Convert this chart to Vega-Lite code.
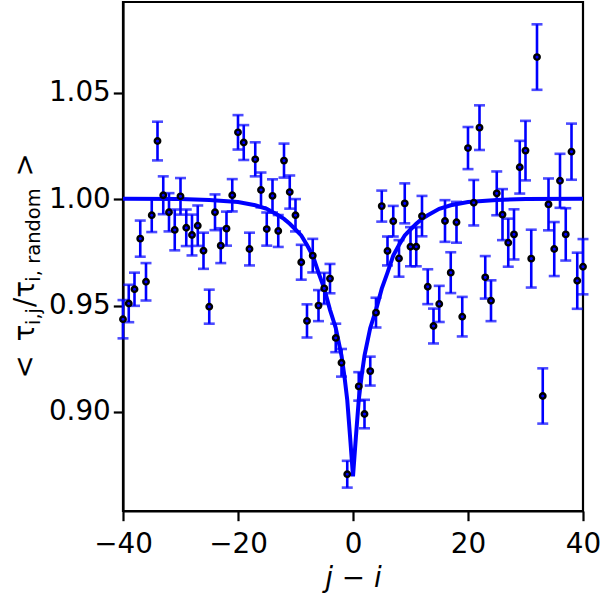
{
  "$schema": "https://vega.github.io/schema/vega-lite/v6.json",
  "width": 460,
  "height": 509,
  "autosize": {"type": "none"},
  "padding": {"left": 123, "top": 2, "right": 17, "bottom": 83},
  "background": "white",
  "config": {
    "view": {"stroke": "black", "strokeWidth": 2.2},
    "axis": {
      "grid": false,
      "labelFont": "DejaVu Sans",
      "labelFontSize": 27.8,
      "labelColor": "black",
      "titleFont": "DejaVu Sans",
      "titleFontSize": 27.8,
      "titleFontWeight": "normal",
      "titleColor": "black",
      "tickColor": "black",
      "tickWidth": 2.2,
      "tickSize": 9.7,
      "domainColor": "black",
      "domainWidth": 2.2
    }
  },
  "datasets": {
    "pts": [
      {"x": -40, "y": 0.9436, "err": 0.009},
      {"x": -39, "y": 0.951, "err": 0.0088},
      {"x": -38, "y": 0.9577, "err": 0.0078},
      {"x": -37, "y": 0.9815, "err": 0.0085},
      {"x": -36, "y": 0.9612, "err": 0.0088},
      {"x": -35, "y": 0.9925, "err": 0.0079},
      {"x": -34, "y": 1.0274, "err": 0.0091},
      {"x": -33, "y": 1.0019, "err": 0.0089},
      {"x": -32, "y": 0.9939, "err": 0.009},
      {"x": -31, "y": 0.9856, "err": 0.0096},
      {"x": -30, "y": 1.0014, "err": 0.0086},
      {"x": -29, "y": 0.9866, "err": 0.0086},
      {"x": -28, "y": 0.9832, "err": 0.0096},
      {"x": -27, "y": 0.9876, "err": 0.0095},
      {"x": -26, "y": 0.9758, "err": 0.0085},
      {"x": -25, "y": 0.9495, "err": 0.008},
      {"x": -24, "y": 0.9939, "err": 0.0084},
      {"x": -23, "y": 0.9782, "err": 0.0082},
      {"x": -22, "y": 0.9862, "err": 0.008},
      {"x": -21, "y": 1.0019, "err": 0.0076},
      {"x": -20, "y": 1.0315, "err": 0.0081},
      {"x": -19, "y": 1.0267, "err": 0.0082},
      {"x": -18, "y": 0.9766, "err": 0.0077},
      {"x": -17, "y": 1.0188, "err": 0.008},
      {"x": -16, "y": 1.0044, "err": 0.0082},
      {"x": -15, "y": 0.986, "err": 0.0078},
      {"x": -14, "y": 1.0016, "err": 0.0078},
      {"x": -13, "y": 0.9851, "err": 0.0075},
      {"x": -12, "y": 1.0182, "err": 0.008},
      {"x": -11, "y": 1.0034, "err": 0.0078},
      {"x": -10, "y": 0.9925, "err": 0.0076},
      {"x": -9, "y": 0.9704, "err": 0.0082},
      {"x": -8, "y": 0.9428, "err": 0.0078},
      {"x": -7, "y": 0.9735, "err": 0.0079},
      {"x": -6, "y": 0.95, "err": 0.0073},
      {"x": -5, "y": 0.9581, "err": 0.0073},
      {"x": -4, "y": 0.9627, "err": 0.0069},
      {"x": -3, "y": 0.9348, "err": 0.0067},
      {"x": -2, "y": 0.9231, "err": 0.0065},
      {"x": -1, "y": 0.8707, "err": 0.0063},
      {"x": 1, "y": 0.912, "err": 0.0067},
      {"x": 2, "y": 0.899, "err": 0.0067},
      {"x": 3, "y": 0.9192, "err": 0.0068},
      {"x": 4, "y": 0.9467, "err": 0.007},
      {"x": 5, "y": 0.9968, "err": 0.0073},
      {"x": 6, "y": 0.9757, "err": 0.0068},
      {"x": 7, "y": 0.9897, "err": 0.0072},
      {"x": 8, "y": 0.9722, "err": 0.0086},
      {"x": 9, "y": 0.9981, "err": 0.0094},
      {"x": 10, "y": 0.9777, "err": 0.0092},
      {"x": 11, "y": 0.9777, "err": 0.0092},
      {"x": 12, "y": 0.9921, "err": 0.0095},
      {"x": 13, "y": 0.9589, "err": 0.0082},
      {"x": 14, "y": 0.9404, "err": 0.0082},
      {"x": 15, "y": 0.9508, "err": 0.0085},
      {"x": 16, "y": 0.9898, "err": 0.0098},
      {"x": 17, "y": 0.9655, "err": 0.0096},
      {"x": 18, "y": 0.9892, "err": 0.0096},
      {"x": 19, "y": 0.9448, "err": 0.0093},
      {"x": 20, "y": 1.0241, "err": 0.0099},
      {"x": 21, "y": 0.9984, "err": 0.0107},
      {"x": 22, "y": 1.0337, "err": 0.0105},
      {"x": 23, "y": 0.9633, "err": 0.01},
      {"x": 24, "y": 0.9523, "err": 0.0096},
      {"x": 25, "y": 1.0028, "err": 0.0103},
      {"x": 26, "y": 0.9928, "err": 0.012},
      {"x": 27, "y": 0.9796, "err": 0.0113},
      {"x": 28, "y": 0.9835, "err": 0.0118},
      {"x": 29, "y": 1.0151, "err": 0.0124},
      {"x": 30, "y": 1.0229, "err": 0.014},
      {"x": 31, "y": 0.9721, "err": 0.0136},
      {"x": 32, "y": 1.0669, "err": 0.0154},
      {"x": 33, "y": 0.9075, "err": 0.013},
      {"x": 34, "y": 0.9976, "err": 0.0122},
      {"x": 35, "y": 0.9766, "err": 0.0127},
      {"x": 36, "y": 1.0087, "err": 0.0127},
      {"x": 37, "y": 0.9835, "err": 0.0123},
      {"x": 38, "y": 1.0224, "err": 0.0132},
      {"x": 39, "y": 0.9617, "err": 0.0132},
      {"x": 40, "y": 0.9683, "err": 0.013}
    ],
    "fit": [
      {"x": -40, "fit": 1.0003},
      {"x": -30, "fit": 1.0001},
      {"x": -25, "fit": 0.9997},
      {"x": -20, "fit": 0.9987},
      {"x": -17, "fit": 0.9972},
      {"x": -15, "fit": 0.9955},
      {"x": -13, "fit": 0.9925},
      {"x": -12, "fit": 0.9908},
      {"x": -11, "fit": 0.9885},
      {"x": -10, "fit": 0.9858},
      {"x": -9, "fit": 0.983},
      {"x": -8, "fit": 0.9785},
      {"x": -7, "fit": 0.9735},
      {"x": -6, "fit": 0.9655},
      {"x": -5, "fit": 0.958},
      {"x": -4, "fit": 0.948},
      {"x": -3, "fit": 0.9395},
      {"x": -2, "fit": 0.9265},
      {"x": -1.5, "fit": 0.917},
      {"x": -1, "fit": 0.9056},
      {"x": -0.5, "fit": 0.888},
      {"x": 0, "fit": 0.8697},
      {"x": 0.5, "fit": 0.888},
      {"x": 1, "fit": 0.9056},
      {"x": 1.5, "fit": 0.917},
      {"x": 2, "fit": 0.9265},
      {"x": 3, "fit": 0.9395},
      {"x": 4, "fit": 0.948},
      {"x": 5, "fit": 0.958},
      {"x": 6, "fit": 0.9655},
      {"x": 7, "fit": 0.9735},
      {"x": 8, "fit": 0.9785},
      {"x": 9, "fit": 0.983},
      {"x": 10, "fit": 0.9858},
      {"x": 11, "fit": 0.9885},
      {"x": 12, "fit": 0.9908},
      {"x": 13, "fit": 0.9925},
      {"x": 15, "fit": 0.9955},
      {"x": 17, "fit": 0.9972},
      {"x": 20, "fit": 0.9987},
      {"x": 25, "fit": 0.9997},
      {"x": 30, "fit": 1.0001},
      {"x": 40, "fit": 1.0003}
    ]
  },
  "resolve": {"scale": {"y": "independent"}},
  "layer": [
    {
      "layer": [
        {
          "data": {"name": "pts"},
          "mark": {"type": "errorbar", "ticks": true, "size": 11, "thickness": 2.6, "color": "#0000ff"},
          "encoding": {
            "x": {"field": "x", "type": "quantitative", "scale": {"domain": [-40, 40], "nice": false, "zero": false},
                  "axis": {"values": [-40, -20, 0, 20, 40], "format": "d", "title": "j − i", "titleFontStyle": "italic", "labelPadding": 10, "titlePadding": 6, "labelFlush": false}},
            "y": {"field": "y", "type": "quantitative", "scale": {"domain": [0.8534, 1.0928], "nice": false, "zero": false},
                  "axis": {"values": [0.9, 0.95, 1.0, 1.05], "format": ".2f", "title": "<\u2002τ\u00a0\u00a0/τ\u2003\u2003\u2003\u2005\u2002>", "titleAngle": 270, "titleAlign": "left", "titleBaseline": "alphabetic", "titleX": -90, "titleY": 376, "labelPadding": 3, "labelFlush": false}},
            "yError": {"field": "err"}
          }
        },
        {
          "data": {"name": "fit"},
          "mark": {"type": "line", "color": "#0000ff", "strokeWidth": 4, "clip": true},
          "encoding": {
            "x": {"field": "x", "type": "quantitative"},
            "y": {"field": "fit", "type": "quantitative"}
          }
        },
        {
          "data": {"name": "pts"},
          "mark": {"type": "point", "filled": false, "fill": "#0000ff", "fillOpacity": 1, "stroke": "black", "strokeWidth": 2.4, "size": 30, "opacity": 1},
          "encoding": {
            "x": {"field": "x", "type": "quantitative"},
            "y": {"field": "y", "type": "quantitative"}
          }
        }
      ]
    },
    {
      "data": {"name": "pts"},
      "mark": {"type": "point", "opacity": 0},
      "encoding": {
        "x": {"field": "x", "type": "quantitative"},
        "y": {"field": "y", "type": "quantitative", "scale": {"domain": [0.8534, 1.0928], "nice": false, "zero": false},
              "axis": {"orient": "right", "labels": false, "ticks": false, "domain": false, "title": "i,j\u2003\u2005\u200ai,\u00a0random", "titleFontSize": 19.5, "titleAngle": 270, "titleAlign": "left", "titleBaseline": "alphabetic", "titleX": -544, "titleY": 322.5}}
      }
    }
  ]
}
